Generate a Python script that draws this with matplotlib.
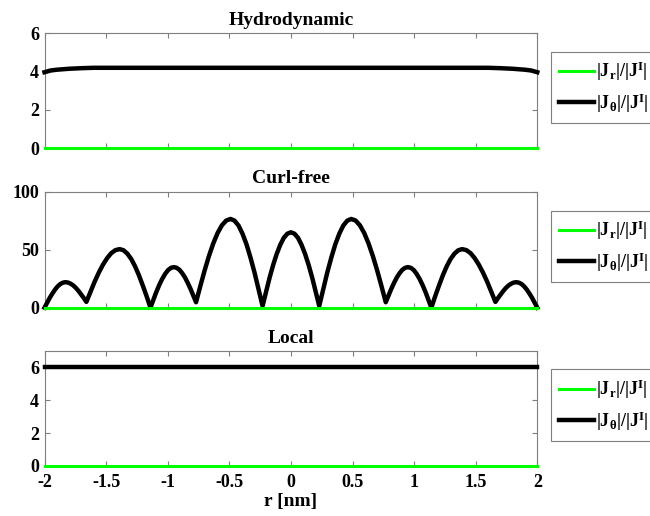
import matplotlib
matplotlib.use("Agg")
import matplotlib.pyplot as plt

plt.rcParams['font.family'] = ['Liberation Serif', 'DejaVu Serif']
plt.rcParams['font.weight'] = 'bold'
plt.rcParams['mathtext.fontset'] = 'custom'
plt.rcParams['mathtext.rm'] = 'Liberation Serif:bold'
plt.rcParams['mathtext.it'] = 'Liberation Serif:bold'
plt.rcParams['mathtext.bf'] = 'Liberation Serif:bold'
plt.rcParams['mathtext.default'] = 'bf'

# ---- data ----
titles = ["Hydrodynamic", "Curl-free", "Local"]
legend_labels = [r'$|J_r|/|J^I|$', r'$|J_\theta|/|J^I|$']
xticks = [-2, -1.5, -1, -0.5, 0, 0.5, 1, 1.5, 2]
xtick_labels = ["-2", "-1.5", "-1", "-0.5", "0", "0.5", "1", "1.5", "2"]

# Hydrodynamic
r_hydro = [-2.0, -1.95, -1.9, -1.8, -1.7, -1.6, -1.0, -0.5, 0.0,
           0.5, 1.0, 1.6, 1.7, 1.8, 1.9, 1.95, 2.0]
jr_hydro = [0.0] * 17
jt_hydro = [3.97, 4.06, 4.1, 4.15, 4.18, 4.2, 4.2, 4.2, 4.2,
            4.2, 4.2, 4.2, 4.18, 4.15, 4.1, 4.06, 3.97]

# Curl-free |J_theta| (left half, the curve is mirror-symmetric)
r_curl_left = [-2.0, -1.979, -1.958, -1.936, -1.915, -1.894, -1.873, -1.851,
               -1.83, -1.809, -1.788, -1.766, -1.745, -1.724, -1.703, -1.681,
               -1.66, -1.626, -1.593, -1.559, -1.525, -1.491, -1.458, -1.424,
               -1.39, -1.359, -1.328, -1.296, -1.265, -1.234, -1.203, -1.171,
               -1.14, -1.116, -1.093, -1.069, -1.045, -1.021, -0.998, -0.974,
               -0.95, -0.928, -0.905, -0.883, -0.86, -0.838, -0.815, -0.793,
               -0.77, -0.735, -0.70, -0.665, -0.63, -0.595, -0.56, -0.525,
               -0.49, -0.458, -0.425, -0.393, -0.36, -0.328, -0.295, -0.263,
               -0.23, -0.201, -0.173, -0.144, -0.115, -0.086, -0.058, -0.029]
jt_curl_left = [0.0, 4.29, 8.43, 12.23, 15.55, 18.28, 20.33, 21.58,
                22.0, 21.68, 20.71, 19.13, 17.02, 14.45, 11.51, 8.32,
                5.0, 13.87, 22.43, 30.3, 37.17, 42.81, 47.04, 49.64,
                50.5, 49.54, 46.66, 41.97, 35.7, 28.08, 19.34, 9.85,
                0.0, 6.83, 13.41, 19.46, 24.75, 29.09, 32.34, 34.34,
                35.0, 34.42, 32.7, 29.88, 26.12, 21.55, 16.3, 10.61,
                4.7, 18.7, 32.2, 44.62, 55.46, 64.37, 71.04, 75.14,
                76.5, 75.08, 70.8, 63.83, 54.53, 43.2, 30.23, 16.13,
                1.5, 13.88, 25.82, 36.81, 46.39, 54.27, 60.17, 63.79]
jt_curl_center = 65.0
r_curl = r_curl_left + [0.0] + [-v for v in reversed(r_curl_left)]
jt_curl = jt_curl_left + [jt_curl_center] + list(reversed(jt_curl_left))
r_curl_jr = [-2.0, 2.0]
jr_curl = [0.0, 0.0]

# Local
r_local = [-2.0, 2.0]
jr_local = [0.0, 0.0]
jt_local = [6.0, 6.0]

ylims = [(0, 6), (0, 100), (0, 7)]
yticks = [[0, 2, 4, 6], [0, 50, 100], [0, 2, 4, 6]]

# ---- figure ----
W, H = 650, 516
fig = plt.figure(figsize=(W / 100, H / 100), dpi=100)

def ax_rect(x0, x1, ytop, ybot):
    return [x0 / W, 1 - ybot / H, (x1 - x0) / W, (ybot - ytop) / H]

rects = [ax_rect(44.5, 537.3, 33.3, 148.3),
         ax_rect(44.5, 537.3, 191.7, 307.7),
         ax_rect(44.5, 537.3, 351.0, 466.0)]

series = [
    (r_hydro, jr_hydro, r_hydro, jt_hydro),
    (r_curl_jr, jr_curl, r_curl, jt_curl),
    (r_local, jr_local, r_local, jt_local),
]

spine_col = '#7f7f7f'
for i, (rect, (xr, yr, xt, yt)) in enumerate(zip(rects, series)):
    ax = fig.add_axes(rect)
    l1, = ax.plot(xr, yr, color='#00ff00', lw=2.2, zorder=4, clip_on=False)
    l2, = ax.plot(xt, yt, color='black', lw=3.2, zorder=3, clip_on=False,
                  solid_joinstyle='round')
    ax.set_xlim(-2, 2)
    ax.set_ylim(*ylims[i])
    ax.set_xticks(xticks)
    ax.set_yticks(yticks[i])
    if i == 2:
        ax.set_xticklabels(xtick_labels)
        ax.set_xlabel('r [nm]', fontsize=14, fontweight='bold', labelpad=1)
    else:
        ax.set_xticklabels([])
    ax.tick_params(direction='in', length=3.5, width=0.8, color=spine_col,
                   top=True, right=True, labelsize=13)
    ax.tick_params(axis='x', pad=6)
    ax.tick_params(axis='y', pad=4)
    for lab in ax.get_xticklabels() + ax.get_yticklabels():
        lab.set_fontweight('bold')
    for s in ax.spines.values():
        s.set_color(spine_col)
        s.set_linewidth(0.8)
    ax.set_title(titles[i], fontsize=14, fontweight='bold', pad=6)
    leg = ax.legend([l1, l2], legend_labels, loc='center left',
                    bbox_to_anchor=(1.028, 0.53), fontsize=13,
                    handlelength=1.9, handletextpad=0.15, borderpad=0.45,
                    labelspacing=0.45, borderaxespad=0.0, fancybox=False,
                    framealpha=1)
    leg.get_frame().set_edgecolor(spine_col)
    leg.get_frame().set_linewidth(0.8)

fig.savefig('out.png', dpi=100)
